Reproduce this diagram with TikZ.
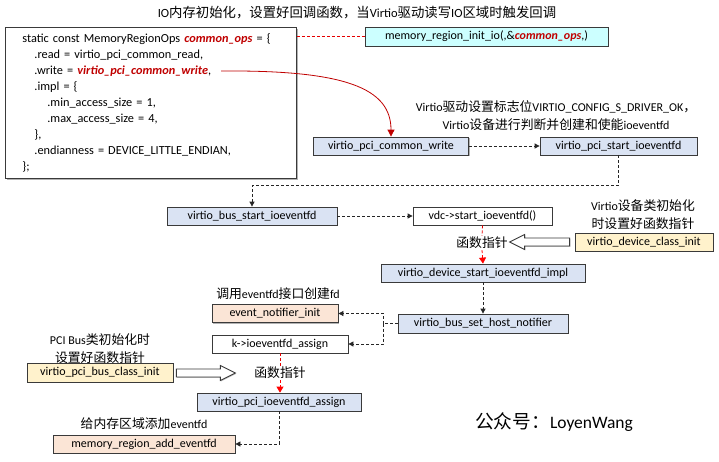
\documentclass[tikz,border=0pt]{standalone}
\usepackage{fontspec}
\setmainfont{Carlito}
\newfontfamily\cjk[Scale=1.07]{Noto Sans CJK SC}
\usetikzlibrary{arrows.meta,shadows}
\definecolor{bluebox}{HTML}{DAE3F3}
\definecolor{yelbox}{HTML}{FFF2CC}
\definecolor{salbox}{HTML}{FBE5D6}
\definecolor{cyanbox}{HTML}{CCFFFF}
\definecolor{codered}{HTML}{C00000}
\definecolor{edge}{HTML}{3A3A3A}
\tikzset{
  fbox/.style={draw=edge, line width=0.8pt, inner sep=0pt, minimum height=18pt,
    drop shadow={shadow xshift=1.2pt, shadow yshift=-1.2pt, fill=gray!60, opacity=1},
    font=\fontsize{12}{14}\selectfont},
  bluef/.style={fbox, fill=bluebox},
  yelf/.style={fbox, fill=yelbox},
  salf/.style={fbox, fill=salbox},
  whitef/.style={fbox, fill=white},
  cyanf/.style={fbox, fill=cyanbox},
  note/.style={align=center, inner sep=1pt, font=\fontsize{12}{18}\selectfont},
  flow/.style={draw=black!85, line width=0.8pt, dash pattern=on 3pt off 2pt},
  flowarr/.style={flow, -{Triangle[length=5pt,width=5pt]}},
  redflow/.style={draw=red!90!black, line width=0.8pt, dash pattern=on 3pt off 2pt},
  redarr/.style={redflow, -{Triangle[length=6pt,width=7pt]}, color=red},
  hollowline/.style={draw=edge, fill=white, line width=0.9pt, line join=miter,
    drop shadow={shadow xshift=0.8pt, shadow yshift=-0.8pt, fill=gray!50, opacity=1}},
}
\begin{document}
\begin{tikzpicture}[x=1pt,y=-1pt]
\useasboundingbox[fill=white] (0,0) rectangle (719,461);

% title
\node[note, font=\fontsize{12.5}{14}\selectfont] (title) at (357,13) {IO{\cjk 内存初始化，设置好回调函数，当}Virtio{\cjk 驱动读写}IO{\cjk 区域时触发回调}};

% code box
\node[draw=edge, line width=0.8pt, fill=white, anchor=north west, minimum width=291pt, minimum height=151pt,
  text width=291pt, inner xsep=0pt, inner ysep=0pt, align=left, font=\fontsize{12.3}{16}\selectfont,
  drop shadow={shadow xshift=1.2pt, shadow yshift=-1.2pt, fill=gray!60, opacity=1}] (code) at (5,27) {%
\hspace*{17pt}static const MemoryRegionOps \textcolor{codered}{\textbf{\textit{common\_ops}}} = \{\\
\hspace*{29pt}.read = virtio\_pci\_common\_read,\\
\hspace*{29pt}.write = \textcolor{codered}{\textbf{\textit{virtio\_pci\_common\_write}}},\\
\hspace*{29pt}.impl = \{\\
\hspace*{42pt}.min\_access\_size = 1,\\
\hspace*{42pt}.max\_access\_size = 4,\\
\hspace*{29pt}\},\\
\hspace*{29pt}.endianness = DEVICE\_LITTLE\_ENDIAN,\\
\hspace*{17pt}\};};
\coordinate (wend) at (221,71);

% boxes
\node[cyanf, minimum width=243pt, minimum height=19pt] (mri) at (486.5,36.5) {memory\_region\_init\_io(,\&\textcolor{codered}{\textbf{\textit{common\_ops}}},)};
\node[bluef, minimum width=155pt] (cw) at (391,146) {virtio\_pci\_common\_write};
\node[note] (note1) at (556,115.5) {Virtio{\cjk 驱动设置标志位}VIRTIO\_CONFIG\_S\_DRIVER\_OK{\cjk ，}\\Virtio{\cjk 设备进行判断并创建和使能}ioeventfd};
\node[bluef, minimum width=157pt] (psi) at (618.5,146) {virtio\_pci\_start\_ioeventfd};
\node[bluef, minimum width=170pt] (bsi) at (252,216) {virtio\_bus\_start\_ioeventfd};
\node[whitef, minimum width=139pt] (vdc) at (482.5,216) {vdc->start\_ioeventfd()};
\node[note] (note2) at (643,215) {Virtio{\cjk 设备类初始化}\\{\cjk 时设置好函数指针}};
\node[yelf, minimum width=138pt] (dci) at (644,242) {virtio\_device\_class\_init};
\node[note, font=\fontsize{12}{14}\selectfont\cjk] (fp1) at (482,243) {函数指针};
\node[bluef, minimum width=204pt] (impl) at (483,273) {virtio\_device\_start\_ioeventfd\_impl};
\node[bluef, minimum width=170pt, minimum height=19pt] (shn) at (483,323.5) {virtio\_bus\_set\_host\_notifier};
\node[note] (note3) at (278,294) {{\cjk 调用}eventfd{\cjk 接口创建}fd};
\node[salf, minimum width=126pt] (eni) at (275,313.5) {event\_notifier\_init};
\node[whitef, minimum width=136pt] (kia) at (280,344) {k->ioeventfd\_assign};
\node[note] (note4) at (100,349) {PCI Bus{\cjk 类初始化时}\\{\cjk 设置好函数指针}};
\node[yelf, minimum width=146pt, minimum height=19pt] (pbci) at (100,372.5) {virtio\_pci\_bus\_class\_init};
\node[note, font=\fontsize{12}{14}\selectfont\cjk] (fp2) at (280,373) {函数指针};
\node[bluef, minimum width=164pt] (pia) at (279,402) {virtio\_pci\_ioeventfd\_assign};
\node[note] (note5) at (144,424) {{\cjk 给内存区域添加}eventfd};
\node[salf, minimum width=182pt] (mrae) at (144,444) {memory\_region\_add\_eventfd};
\node[inner sep=0pt, font=\fontsize{17.5}{20}\selectfont] (wm) at (554,422) {{\cjk 公众号：}LoyenWang};

% hollow block arrows
\draw[hollowline] ([xshift=-5pt]dci.west) ++(0,-4) -- ++(-45,0) -- ++(0,-3.5) -- ++(-15,7.5)
  -- ++(15,7.5) -- ++(0,-3.5) -- ++(45,0) -- cycle;
\draw[hollowline] ([xshift=3pt]pbci.east) ++(0,-3.5) -- ++(44,0) -- ++(0,-3.5) -- ++(15,7.5)
  -- ++(-15,7.5) -- ++(0,-3.5) -- ++(-44,0) -- cycle;

% connectors
\draw[redflow] (code.east |- mri.west) -- (mri.west);
\draw[draw=codered, line width=0.8pt, -{Triangle[length=7pt,width=7pt]}, color=codered]
  (wend) .. controls (345,70) and (391,88) .. (cw.north);
\draw[flowarr] (cw.east) -- (psi.west);
\draw[flowarr] (psi.south) -- ++(0,30) -| (bsi.north);
\draw[flowarr] (bsi.east) -- (vdc.west);
\draw[redflow] (vdc.south) -- (fp1.north);
\draw[redarr] (fp1.south) -- (impl.north);
\draw[flowarr] (impl.south) -- (shn.north);
\draw[flow] (shn.west) -- ++(-14,0) coordinate (br);
\draw[flowarr] (br) |- (eni.east);
\draw[flowarr] (br) |- (kia.east);
\draw[redflow] (kia.south) -- (fp2.north);
\draw[redarr] (fp2.south) -- (fp2.south |- pia.north);
\draw[flowarr] (pia.south) |- (mrae.east);
\end{tikzpicture}
\end{document}
